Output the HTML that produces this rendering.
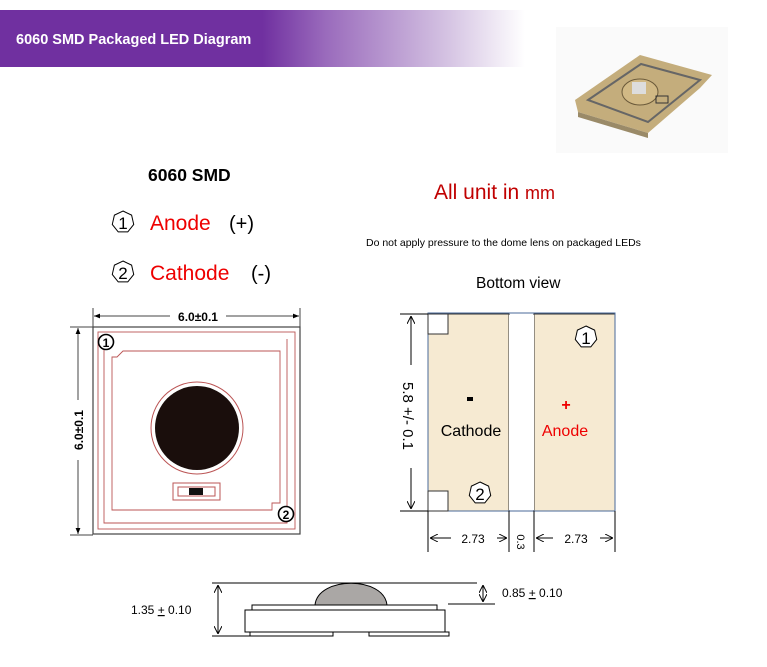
<!DOCTYPE html>
<html><head><meta charset="utf-8"><style>
body{margin:0;width:767px;height:667px;background:#fff;overflow:hidden}
svg{display:block}
text{font-family:"Liberation Sans",sans-serif}
</style></head><body>
<svg width="767" height="667" viewBox="0 0 767 667" xmlns="http://www.w3.org/2000/svg">
<defs>
<linearGradient id="hg" x1="0" x2="1" y1="0" y2="0">
<stop offset="0" stop-color="#7030a0"/><stop offset="0.5" stop-color="#7030a0"/><stop offset="0.62" stop-color="#9a6bbc"/><stop offset="0.85" stop-color="#d4c2e2"/><stop offset="1" stop-color="#fff"/>
</linearGradient>
<polygon id="hep" points="0,-11 8.6,-6.86 10.72,2.45 4.77,9.91 -4.77,9.91 -10.72,2.45 -8.6,-6.86" fill="#fff" stroke="#000" stroke-width="1"/>
<marker id="ar" viewBox="0 0 10 10" refX="10" refY="5" markerWidth="8" markerHeight="8" orient="auto-start-reverse"><path d="M0,0 L10,5 L0,10" fill="none" stroke="#000" stroke-width="1.2"/></marker>
<marker id="af" viewBox="0 0 10 10" refX="10" refY="5" markerWidth="6" markerHeight="6" orient="auto-start-reverse"><path d="M0,1 L10,5 L0,9z" fill="#000"/></marker>
</defs>
<rect x="0" y="10" width="525" height="57" fill="url(#hg)"/>
<text x="16" y="44" font-size="14.5" font-weight="bold" fill="#fff">6060 SMD Packaged LED Diagram</text>

<!-- photo -->
<rect x="556" y="27" width="172" height="126" fill="#fafafa"/>
<polygon points="575,100 640,55 712,75 700,88 648,133 578,112" fill="#c4ad7c"/>
<polygon points="578,112 648,133 648,138 578,117" fill="#9a8a68"/>
<polygon points="588,100 641,64 700,80 648,122" fill="none" stroke="#666" stroke-width="2"/>
<ellipse cx="640" cy="92" rx="18" ry="13" fill="#d1b985" stroke="#6b5a3a"/>
<rect x="632" y="82" width="14" height="12" fill="#ddd"/>
<rect x="656" y="96" width="12" height="7" fill="none" stroke="#333"/>

<text x="148" y="181" font-size="17.5" font-weight="bold">6060 SMD</text>
<use href="#hep" x="123" y="222"/><text x="123" y="229" font-size="17" text-anchor="middle">1</text>
<text x="150" y="230" font-size="21" fill="#e00">Anode</text><text x="229" y="230" font-size="20">(+)</text>
<use href="#hep" x="123" y="272"/><text x="123" y="279" font-size="17" text-anchor="middle">2</text>
<text x="150" y="280" font-size="21" fill="#e00">Cathode</text><text x="251" y="280" font-size="20">(-)</text>

<text x="434" y="199" font-size="21" fill="#c00000">All unit in <tspan font-size="18">mm</tspan></text>
<text x="366" y="246" font-size="10.5">Do not apply pressure to the dome lens on packaged LEDs</text>
<text x="476" y="288" font-size="15.5">Bottom view</text>

<!-- top view -->
<g fill="none">
<rect x="93" y="327" width="207" height="207" stroke="#444" stroke-width="1.2"/>
<rect x="98" y="332" width="197" height="197" stroke="#b55" stroke-width="0.9"/>
<path d="M117,357 L123,351 L280,351 L280,503 L272,503 L272,510 L112,510 L112,357 Z" stroke="#b55" stroke-width="0.9"/>
<path d="M104,345 L104,523 L287,523 L287,339" stroke="#b55" stroke-width="0.9"/>
<circle cx="197" cy="428" r="46" stroke="#b55" stroke-width="1"/>
<rect x="173" y="483" width="47" height="17" stroke="#b55"/>
<rect x="178" y="487" width="37" height="9" stroke="#b55"/>
</g>
<circle cx="197" cy="428" r="42" fill="#1a0e0c"/>
<rect x="189" y="488" width="14" height="7" fill="#111"/>
<circle cx="106" cy="342" r="7.5" fill="#fff" stroke="#000" stroke-width="1.6"/><text x="106" y="347" font-size="12" font-weight="bold" text-anchor="middle">1</text>
<circle cx="286" cy="514" r="7.5" fill="#fff" stroke="#000" stroke-width="1.6"/><text x="286" y="519" font-size="12" font-weight="bold" text-anchor="middle">2</text>
<line x1="93" y1="308" x2="93" y2="327" stroke="#444"/><line x1="300" y1="308" x2="300" y2="327" stroke="#444"/>
<line x1="94" y1="316" x2="170" y2="316" stroke="#444" marker-start="url(#af)"/><line x1="226" y1="316" x2="299" y2="316" stroke="#444" marker-end="url(#af)"/>
<text x="198" y="321" font-size="12" font-weight="bold" text-anchor="middle">6.0±0.1</text>
<line x1="70" y1="327" x2="93" y2="327" stroke="#444"/><line x1="70" y1="535" x2="93" y2="535" stroke="#444"/>
<line x1="78" y1="328" x2="78" y2="400" stroke="#444" marker-start="url(#af)"/><line x1="78" y1="460" x2="78" y2="534" stroke="#444" marker-end="url(#af)"/>
<text transform="translate(83,430) rotate(-90)" font-size="12" font-weight="bold" text-anchor="middle">6.0±0.1</text>

<!-- bottom view -->
<rect x="428" y="314" width="81" height="197" fill="#f6ead2" stroke="#333"/>
<rect x="534" y="314" width="81" height="197" fill="#f6ead2" stroke="#333"/>
<rect x="509" y="315" width="25" height="195" fill="#fff"/>
<rect x="428" y="313" width="187" height="198" fill="none" stroke="#4a6a9a" stroke-width="1"/>
<rect x="428" y="314" width="20" height="20" fill="#fff" stroke="#333"/>
<rect x="428" y="491" width="20" height="20" fill="#fff" stroke="#333"/>
<use href="#hep" x="586" y="337"/><text x="586" y="344" font-size="17" text-anchor="middle">1</text>
<use href="#hep" x="480" y="493"/><text x="480" y="500" font-size="17" text-anchor="middle">2</text>
<rect x="467" y="397" width="6" height="4" fill="#000"/>
<text x="471" y="436" font-size="16" text-anchor="middle">Cathode</text>
<text x="566" y="410" font-size="16" font-weight="bold" fill="#e00" text-anchor="middle">+</text>
<text x="565" y="436" font-size="16" fill="#e00" text-anchor="middle">Anode</text>
<line x1="400" y1="314" x2="428" y2="314" stroke="#000"/><line x1="400" y1="511" x2="428" y2="511" stroke="#000"/>
<line x1="411" y1="316" x2="411" y2="365" stroke="#000" marker-start="url(#ar)"/><line x1="411" y1="468" x2="411" y2="509" stroke="#000" marker-end="url(#ar)"/>
<text transform="translate(403,416) rotate(90)" font-size="15" text-anchor="middle">5.8 +/- 0.1</text>
<g stroke="#000"><line x1="428" y1="511" x2="428" y2="552"/><line x1="509" y1="511" x2="509" y2="552"/><line x1="534" y1="511" x2="534" y2="552"/><line x1="615" y1="511" x2="615" y2="552"/></g>
<line x1="430" y1="538" x2="451" y2="538" stroke="#000" marker-start="url(#ar)"/><line x1="497" y1="538" x2="507" y2="538" stroke="#000" marker-end="url(#ar)"/>
<text x="473" y="543" font-size="12" text-anchor="middle">2.73</text>
<line x1="536" y1="538" x2="553" y2="538" stroke="#000" marker-start="url(#ar)"/><line x1="600" y1="538" x2="613" y2="538" stroke="#000" marker-end="url(#ar)"/>
<text x="576" y="543" font-size="12" text-anchor="middle">2.73</text>
<text transform="translate(517,542) rotate(90)" font-size="11" text-anchor="middle">0.3</text>

<!-- side view -->
<g stroke="#000" stroke-width="1" fill="#fff">
<line x1="212" y1="583" x2="477" y2="583"/>
<line x1="212" y1="636" x2="250" y2="636"/>
<line x1="448" y1="604" x2="495" y2="604"/>
<path d="M315,605 C318,576 384,576 387,605 Z" fill="#aaa7a5"/>
<rect x="252" y="605" width="185" height="5"/>
<rect x="245" y="610" width="200" height="22"/>
<rect x="250" y="632" width="83" height="4"/>
<rect x="369" y="632" width="80" height="4"/>
<line x1="218" y1="585" x2="218" y2="634" marker-start="url(#ar)" marker-end="url(#ar)"/>
<line x1="483" y1="585" x2="483" y2="602" marker-start="url(#ar)" marker-end="url(#ar)"/>
</g>
<text x="131" y="614" font-size="12">1.35 <tspan text-decoration="underline">+</tspan> 0.10</text>
<text x="502" y="597" font-size="12">0.85 <tspan text-decoration="underline">+</tspan> 0.10</text>
</svg>
</body></html>
